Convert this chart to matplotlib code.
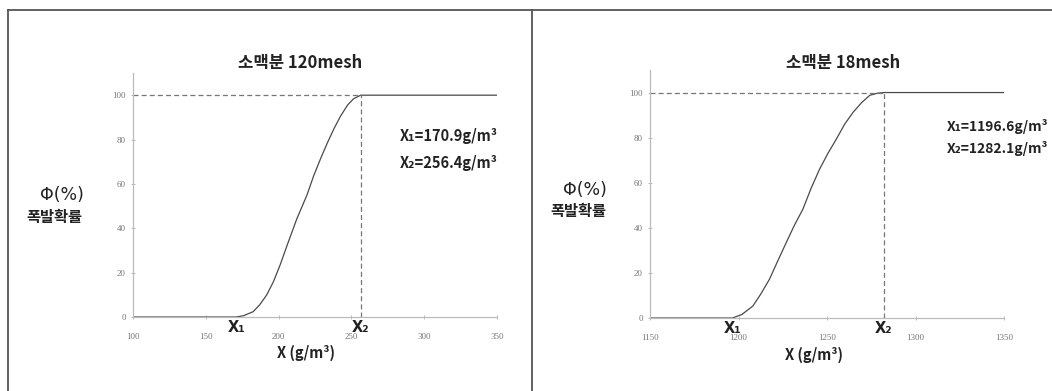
import matplotlib
matplotlib.use("Agg")
import matplotlib.pyplot as plt
from matplotlib.lines import Line2D

plt.rcParams['font.family'] = ['Noto Sans CJK KR', 'DejaVu Sans']

# ---------------------------------------------------------------
# data
# ---------------------------------------------------------------
titles = ["소맥분 120mesh", "소맥분 18mesh"]

x1_vals = [170.9, 1196.6]
x2_vals = [256.4, 1282.1]

# 120 mesh curve
x_120 = [100, 170.9, 176.0, 182.5, 187.0, 191.8, 196.5, 201.0, 206.5, 212.6, 219.5,
         224.0, 228.9, 233.5, 238.1, 242.5, 247.3, 251.5, 256.4, 350]
y_120 = [0, 0, 0.6, 2.4, 5.5, 9.9, 16.0, 23.4, 33.5, 44.4, 55.0,
         63.5, 71.5, 78.5, 85.0, 90.5, 95.5, 98.4, 100, 100]

# 18 mesh curve
x_18 = [1150, 1196.6, 1202.0, 1208.1, 1212.5, 1217.5, 1222.0, 1227.0, 1231.5, 1236.4,
        1241.0, 1245.8, 1250.5, 1255.3, 1260.0, 1264.7, 1269.5, 1274.2, 1278.5, 1282.1, 1350]
y_18 = [0, 0, 1.6, 5.3, 10.5, 17.2, 25.0, 33.5, 41.0, 48.3,
        57.5, 66.0, 73.0, 79.4, 86.0, 91.2, 95.5, 98.8, 99.7, 100, 100]

xs = [x_120, x_18]
ys = [y_120, y_18]
xlims = [(100, 350), (1150, 1350)]
xticks = [[100, 150, 200, 250, 300, 350], [1150, 1200, 1250, 1300, 1350]]
yticks = [0, 20, 40, 60, 80, 100]

W, H = 1052, 391
fig = plt.figure(figsize=(W / 100, H / 100), dpi=100)

# table borders around the two panels
border = "#555555"
fig.add_artist(Line2D([8 / W, 1], [1 - 10 / H, 1 - 10 / H], color=border, lw=1.3))
fig.add_artist(Line2D([8 / W, 8 / W], [0, 1 - 10 / H], color=border, lw=1.3))
fig.add_artist(Line2D([532 / W, 532 / W], [0, 1 - 10 / H], color=border, lw=1.3))

# axes rectangles (pixels: left, right, y of 0, y of top)
boxes = [(133, 497, 317, 73), (650, 1004, 318, 70)]

title_pos = [(300, 63), (843, 63)]
phi_pos = [(62, 195), (585, 190)]
kor_pos = [(54, 217), (578, 211)]
xlab_pos = [(306, 353), (814, 355)]
note_pos = [(400, 136, 163), (947, 126, 149)]
note_size = [10.5, 10]

for i in range(2):
    l, r, yb, yt = boxes[i]
    ax = fig.add_axes([l / W, 1 - yb / H, (r - l) / W, (yb - yt) / H])
    ax.plot(xs[i], ys[i], color="#4a4a4a", lw=0.9)

    x2 = x2_vals[i]
    ax.plot([xlims[i][0], x2], [100, 100], color="#777777", lw=0.9, ls=(0, (4, 2.5)))
    ax.plot([x2, x2], [0, 100], color="#777777", lw=0.9, ls=(0, (4, 2.5)))

    ax.set_xlim(xlims[i])
    ax.set_ylim(0, 110)
    ax.set_xticks(xticks[i])
    ax.set_yticks(yticks)
    for s in ["top", "right"]:
        ax.spines[s].set_visible(False)
    for s in ["left", "bottom"]:
        ax.spines[s].set_color("#bbbbbb")
        ax.spines[s].set_linewidth(0.9)
    ax.tick_params(axis="both", colors="#bbbbbb", length=2.5, width=0.7,
                   labelsize=6.5, labelcolor="#777777", direction="inout")
    ax.tick_params(axis="x", pad=10)
    ax.tick_params(axis="y", pad=4)
    for lab in ax.get_xticklabels() + ax.get_yticklabels():
        lab.set_family("Liberation Serif")

    # X1 / X2 markers under the axis
    ax.text(x1_vals[i], -1.5, "X₁", ha="center", va="top", fontsize=10.5,
            fontweight="bold", color="#222222", family=["DejaVu Sans"])
    ax.text(x2, -1.5, "X₂", ha="center", va="top", fontsize=10.5,
            fontweight="bold", color="#222222", family=["DejaVu Sans"])

    tx, ty = title_pos[i]
    fig.text(tx / W, 1 - ty / H, titles[i], ha="center", va="center",
             fontsize=12, fontweight="bold", color="#222222")

    px, py = phi_pos[i]
    fig.text(px / W, 1 - py / H, "Φ(%)", ha="center", va="center",
             fontsize=12.5, color="#222222", family=["DejaVu Sans"])
    kx, ky = kor_pos[i]
    fig.text(kx / W, 1 - ky / H, "폭발확률", ha="center", va="center",
             fontsize=11, fontweight="bold", color="#222222")

    lx, ly = xlab_pos[i]
    fig.text(lx / W, 1 - ly / H, "X (g/m³)", ha="center", va="center",
             fontsize=10.5, fontweight="bold", color="#222222")

    nx, ny1, ny2 = note_pos[i]
    fig.text(nx / W, 1 - ny1 / H, f"X₁={x1_vals[i]}g/m³", ha="left", va="center",
             fontsize=note_size[i], fontweight="bold", color="#222222")
    fig.text(nx / W, 1 - ny2 / H, f"X₂={x2_vals[i]}g/m³", ha="left", va="center",
             fontsize=note_size[i], fontweight="bold", color="#222222")

fig.savefig("out.png", dpi=100, facecolor="white")
